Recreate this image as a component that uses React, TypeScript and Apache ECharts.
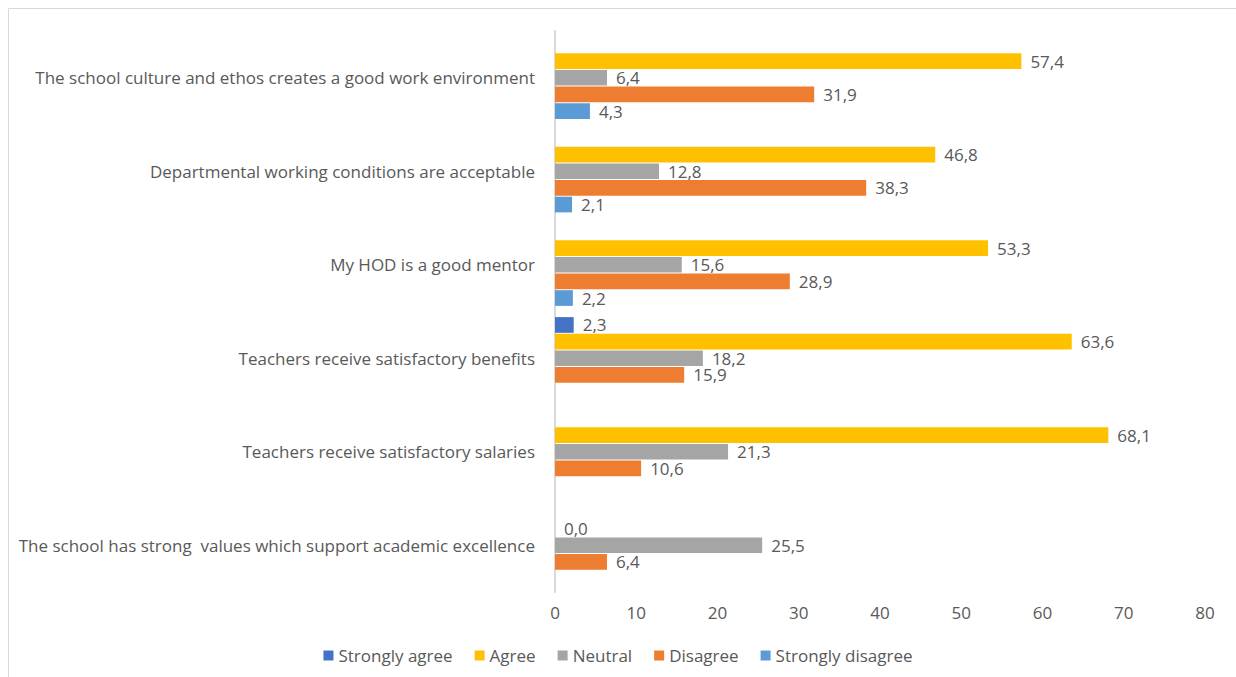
import React, { useEffect, useRef } from "react";
import * as echarts from "echarts";

const categories = [
  "The school culture and ethos creates a good work environment",
  "Departmental working conditions are acceptable",
  "My HOD is a good mentor",
  "Teachers receive satisfactory benefits",
  "Teachers receive satisfactory salaries",
  "The school has strong  values which support academic excellence",
];

const seriesNames = ["Strongly agree", "Agree", "Neutral", "Disagree", "Strongly disagree"];
const seriesColors = ["#4472C4", "#FFC000", "#A5A5A5", "#ED7D31", "#5B9BD5"];

const stronglyAgree: (number | null)[] = [null, null, null, 2.3, null, null];
const agree: (number | null)[] = [57.4, 46.8, 53.3, 63.6, 68.1, 0.0];
const neutral: (number | null)[] = [6.4, 12.8, 15.6, 18.2, 21.3, 25.5];
const disagree: (number | null)[] = [31.9, 38.3, 28.9, 15.9, 10.6, 6.4];
const stronglyDisagree: (number | null)[] = [4.3, 2.1, 2.2, null, null, null];

const xTicks = { min: 0, max: 80, interval: 10 };

const FONT = "'Open Sans', sans-serif";
const TEXT = "#595959";
const FS = 17;

export default function App() {
  const ref = useRef<HTMLDivElement>(null);
  useEffect(() => {
    if (!ref.current) return;
    const chart = echarts.init(ref.current, undefined, { renderer: "svg" });
    const values = [stronglyAgree, agree, neutral, disagree, stronglyDisagree];
    chart.setOption({
      animation: false,
      textStyle: { fontFamily: FONT },
      graphic: [
        {
          type: "rect",
          shape: { x: 8.5, y: 8.5, width: 1240, height: 700 },
          style: { fill: "none", stroke: "#D9D9D9", lineWidth: 1 },
          silent: true,
        },
      ],
      grid: { left: 555, right: 31, top: 31, bottom: 85, containLabel: false },
      legend: {
        data: seriesNames,
        bottom: 8,
        left: "center",
        icon: "rect",
        itemWidth: 10,
        itemHeight: 10,
        itemGap: 22,
        textStyle: { color: TEXT, fontSize: FS, fontFamily: FONT },
      },
      xAxis: {
        type: "value",
        min: xTicks.min,
        max: xTicks.max,
        interval: xTicks.interval,
        axisLine: { show: false },
        axisTick: { show: false },
        splitLine: { show: false },
        axisLabel: { color: TEXT, fontSize: FS, margin: 12, fontFamily: FONT },
      },
      yAxis: {
        type: "category",
        inverse: true,
        data: categories,
        axisLine: { show: true, lineStyle: { color: "#D9D9D9", width: 2 } },
        axisTick: { show: false },
        axisLabel: { color: TEXT, fontSize: FS, margin: 20, fontFamily: FONT },
      },
      series: seriesNames.map((name, i) => ({
        name,
        type: "bar",
        data: values[i],
        barGap: "6%",
        barCategoryGap: "12%",
        itemStyle: { color: seriesColors[i] },
        label: {
          show: true,
          position: "right",
          distance: 9,
          color: TEXT,
          fontSize: FS,
          lineHeight: 15,
          fontFamily: FONT,
          formatter: (p: any) =>
            p.value === null || p.value === undefined ? "" : Number(p.value).toFixed(1).replace(".", ","),
        },
      })),
    });
    return () => chart.dispose();
  }, []);
  return (
    <div
      ref={ref}
      style={{ position: "fixed", left: 0, top: 0, width: 1236, height: 677, background: "#fff" }}
    />
  );
}
